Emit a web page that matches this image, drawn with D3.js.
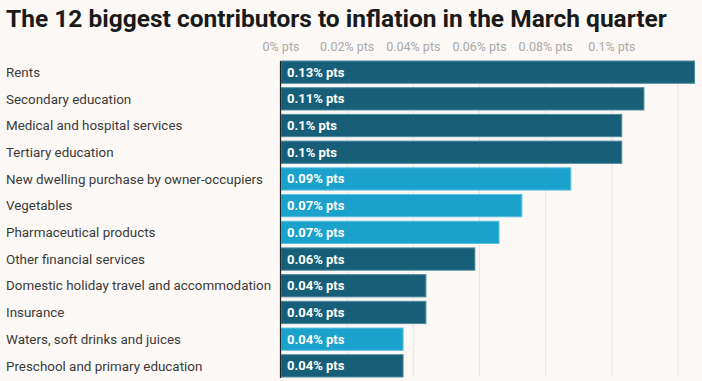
<!DOCTYPE html>
<html><head><meta charset="utf-8">
<script src="https://cdn.jsdelivr.net/npm/d3@7"></script>
<style>
html,body{margin:0;padding:0;background:#fcf8f5;}
svg{display:block;font-family:Roboto,"Noto Sans",sans-serif;}
</style></head>
<body>
<svg id="chart" width="702" height="381"></svg>
<script>
const categories = ["Rents","Secondary education","Medical and hospital services","Tertiary education","New dwelling purchase by owner-occupiers","Vegetables","Pharmaceutical products","Other financial services","Domestic holiday travel and accommodation","Insurance","Waters, soft drinks and juices","Preschool and primary education"];
const values = [0.1250,0.1097,0.1030,0.1030,0.0876,0.0728,0.0659,0.0586,0.0438,0.0438,0.0369,0.0369];
const highlight = [false,false,false,false,true,true,true,false,false,false,true,false];
const tickValues = [0,0.02,0.04,0.06,0.08,0.1,0.12];
const tickLabels = ["0% pts","0.02% pts","0.04% pts","0.06% pts","0.08% pts","0.1% pts",""];
const title = "The 12 biggest contributors to inflation in the March quarter";

const svg = d3.select("#chart");
const x = d3.scaleLinear().domain([0,0.12]).range([281,678]);
const y = d3.scaleBand().domain(categories).range([61,377]).paddingInner(0.166).paddingOuter(0);

svg.append("text").attr("x",6).attr("y",27).attr("font-size",24.5).attr("font-weight",700)
  .attr("fill","#1a1a1a").text(title);

// grid
svg.append("g").selectAll("line").data(tickValues.slice(1)).join("line")
  .attr("x1",d=>x(d)).attr("x2",d=>x(d)).attr("y1",61).attr("y2",377)
  .attr("stroke","#e8e4e0").attr("stroke-width",1);

svg.append("g").selectAll("text").data(tickValues).join("text")
  .attr("x",d=>x(d)).attr("y",51).attr("text-anchor","middle").attr("font-size",12.5)
  .attr("fill","#a8a8a8").text((d,i)=>tickLabels[i]);

// category labels
svg.append("g").selectAll("text").data(categories).join("text")
  .attr("x",6).attr("y",d=>y(d)+y.bandwidth()/2).attr("dy","0.35em")
  .attr("font-size",13.4).attr("fill","#3a3a3a").text(d=>d);

// bars
svg.append("g").selectAll("rect").data(values).join("rect")
  .attr("x",x(0)).attr("y",(d,i)=>y(categories[i]))
  .attr("width",d=>x(d)-x(0)).attr("height",y.bandwidth())
  .attr("fill",(d,i)=>highlight[i]?"#1aa1cc":"#175f78")
  .attr("stroke",(d,i)=>highlight[i]?"#5cc0de":"#4f8a9e").attr("stroke-width",1);

svg.append("g").selectAll("text").data(values).join("text")
  .attr("x",x(0)+6).attr("y",(d,i)=>y(categories[i])+y.bandwidth()/2).attr("dy","0.35em")
  .attr("font-size",13).attr("font-weight",700).attr("fill","#fff")
  .text(d=>(Math.round(d*100)/100)+"% pts");

// axis line
svg.append("line").attr("x1",280.5).attr("x2",280.5).attr("y1",61).attr("y2",378)
  .attr("stroke","#222").attr("stroke-width",1.2);
</script>
</body></html>
